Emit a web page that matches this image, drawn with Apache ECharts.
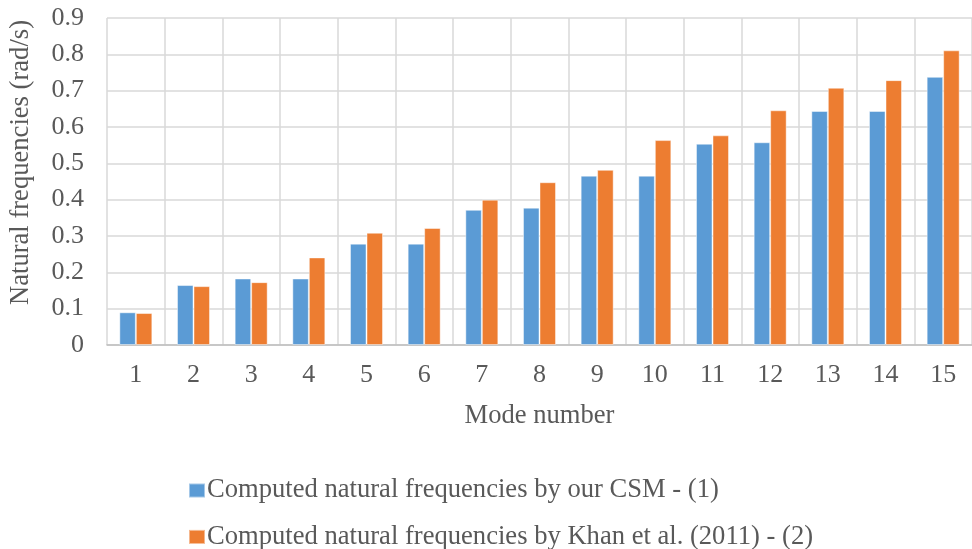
<!DOCTYPE html>
<html>
<head>
<meta charset="utf-8">
<script src="https://cdn.jsdelivr.net/npm/echarts@6/dist/echarts.min.js"></script>
<style>
  html, body { margin: 0; padding: 0; background: #ffffff; overflow: hidden; }
  #chart { width: 972px; height: 549px; }
</style>
</head>
<body>
<div id="chart"></div>
<script>
// Mode numbers along the horizontal axis
const modes = ['1', '2', '3', '4', '5', '6', '7', '8', '9', '10', '11', '12', '13', '14', '15'];

// Natural frequencies (rad/s) from the present CSM model
const csmFreq = [0.090, 0.165, 0.183, 0.183, 0.279, 0.279, 0.372, 0.378, 0.466, 0.466, 0.554, 0.558, 0.644, 0.644, 0.738];

// Natural frequencies (rad/s) reported by Khan et al. (2011)
const khanFreq = [0.088, 0.162, 0.173, 0.241, 0.309, 0.322, 0.400, 0.448, 0.482, 0.564, 0.577, 0.646, 0.708, 0.729, 0.811];

const seriesNames = [
  'Computed natural frequencies by our CSM - (1)',
  'Computed natural frequencies by Khan et al. (2011) - (2)'
];

const FONT = '"Liberation Serif", "Times New Roman", serif';
const TEXT = '#595959';
const FS = 26;     // tick labels
const FS_L = 26.6; // axis titles and legend

const chart = echarts.init(document.getElementById('chart'), null, { renderer: 'canvas' });

chart.setOption({
  backgroundColor: '#ffffff',
  animation: false,
  textStyle: { fontFamily: FONT, color: TEXT },
  // the plot runs slightly past the right edge of the canvas
  grid: { left: 106, right: -6, top: 18, bottom: 204, containLabel: false },
  legend: {
    orient: 'vertical',
    left: 183,
    top: 472,
    height: 120,
    itemWidth: 16,
    itemHeight: 14,
    itemGap: 19.4,
    icon: 'rect',
    textStyle: { fontFamily: FONT, fontSize: FS_L, color: TEXT, padding: [0, 0, 0, -3] },
    data: seriesNames
  },
  xAxis: {
    type: 'category',
    data: modes,
    name: 'Mode number',
    nameLocation: 'middle',
    nameGap: 58,
    nameTextStyle: { fontFamily: FONT, fontSize: FS_L, color: TEXT },
    axisLine: { show: true, lineStyle: { color: '#bfbfbf', width: 1.5 } },
    axisTick: { show: false },
    axisLabel: { fontFamily: FONT, fontSize: FS, color: TEXT, margin: 17 },
    splitLine: { show: true, lineStyle: { color: '#d9d9d9', width: 1.5 } }
  },
  yAxis: {
    type: 'value',
    min: 0,
    max: 0.9,
    interval: 0.1,
    name: 'Natural frequencies (rad/s)',
    nameLocation: 'middle',
    nameGap: 72,
    nameTextStyle: { fontFamily: FONT, fontSize: FS_L, color: TEXT, padding: [0, 0, 0, 38] },
    axisLine: { show: false },
    axisTick: { show: false },
    axisLabel: {
      fontFamily: FONT, fontSize: FS, color: TEXT, margin: 23,
      formatter: v => (v === 0 ? '0' : v.toFixed(1))
    },
    splitLine: { show: true, lineStyle: { color: '#d9d9d9', width: 1.5 } }
  },
  series: [
    {
      name: seriesNames[0],
      type: 'bar',
      data: csmFreq,
      barWidth: 16.5,
      barGap: '0%',
      itemStyle: { color: '#5b9bd5', borderColor: 'rgba(255,255,255,0.45)', borderWidth: 1 }
    },
    {
      name: seriesNames[1],
      type: 'bar',
      data: khanFreq,
      barWidth: 16.5,
      barGap: '0%',
      itemStyle: { color: '#ed7d31', borderColor: 'rgba(255,255,255,0.45)', borderWidth: 1 }
    }
  ]
});
</script>
</body>
</html>
